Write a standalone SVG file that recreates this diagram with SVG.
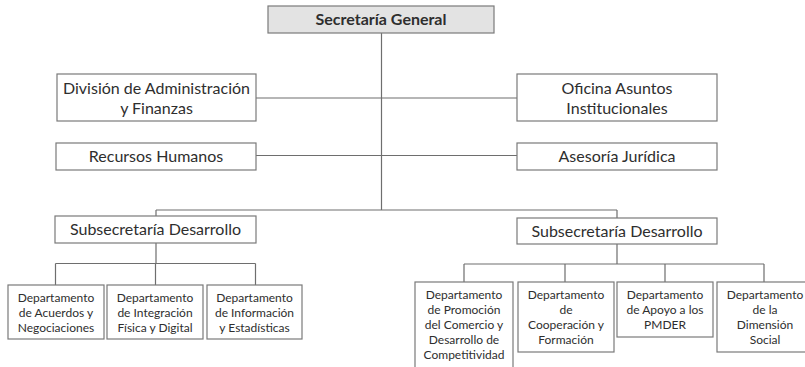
<svg xmlns="http://www.w3.org/2000/svg" width="805" height="367" viewBox="0 0 805 367">
<style>
.box{fill:#fff;stroke:#7a7a7a;stroke-width:1.2}
.top{fill:#e3e3e3;stroke:#7a7a7a;stroke-width:1.2}
.ln{fill:none;stroke:#6e6e6e;stroke-width:1.2}
text{font-family:Lato,"Open Sans",sans-serif;fill:#2e2e2e;text-anchor:middle}
.t1{font-size:16px;font-weight:bold}
.t2{font-size:16px}
.t3{font-size:12px}
</style>
<rect width="805" height="367" fill="#fff"/>
<g id="connectors">
<path class="ln" d="M381.5 33V210M256 98H517M256 155.5H517M156 210H617M156 210V216M617 210V218"/>
<path class="ln" d="M156 243V263.5M55.5 263.5H255.5M55.5 263.5V285M155.5 263.5V285M255.5 263.5V285"/>
<path class="ln" d="M617 244V264M464 264H764M464 264V282M565 264V282M665 264V282M764 264V282"/>
</g>
<g id="secretaria"><rect class="top" x="268" y="6" width="226" height="27"/><text class="t1" x="381" y="25">Secretaría General</text></g>
<g id="division"><rect class="box" x="57" y="74" width="199" height="47"/><text class="t2" x="156.5" y="94">División de Administración</text><text class="t2" x="156.5" y="114">y Finanzas</text></g>
<g id="oficina"><rect class="box" x="517" y="74" width="200" height="47"/><text class="t2" x="617" y="94">Oficina Asuntos</text><text class="t2" x="617" y="114">Institucionales</text></g>
<g id="recursos"><rect class="box" x="56" y="143" width="200" height="27"/><text class="t2" x="156" y="162">Recursos Humanos</text></g>
<g id="asesoria"><rect class="box" x="517" y="143" width="200" height="27"/><text class="t2" x="617" y="162">Asesoría Jurídica</text></g>
<g id="sub-left"><rect class="box" x="55" y="216" width="201" height="27"/><text class="t2" x="155.5" y="235">Subsecretaría Desarrollo</text></g>
<g id="sub-right"><rect class="box" x="517" y="218" width="200" height="26"/><text class="t2" x="617" y="237">Subsecretaría Desarrollo</text></g>
<g id="dep-acuerdos"><rect class="box" x="8" y="285" width="96" height="54"/><text class="t3" x="56" y="301.5">Departamento</text><text class="t3" x="56" y="316.5">de Acuerdos y</text><text class="t3" x="56" y="331.5">Negociaciones</text></g>
<g id="dep-integracion"><rect class="box" x="107" y="285" width="96" height="54"/><text class="t3" x="155" y="301.5">Departamento</text><text class="t3" x="155" y="316.5">de Integración</text><text class="t3" x="155" y="331.5">Física y Digital</text></g>
<g id="dep-informacion"><rect class="box" x="207" y="285" width="95" height="54"/><text class="t3" x="254.5" y="301.5">Departamento</text><text class="t3" x="254.5" y="316.5">de Información</text><text class="t3" x="254.5" y="331.5">y Estadísticas</text></g>
<g id="dep-promocion"><rect class="box" x="415" y="282" width="98" height="92"/><text class="t3" x="464" y="298.5">Departamento</text><text class="t3" x="464" y="313.5">de Promoción</text><text class="t3" x="464" y="328.5">del Comercio y</text><text class="t3" x="464" y="343.5">Desarrollo de</text><text class="t3" x="464" y="358.5">Competitividad</text></g>
<g id="dep-cooperacion"><rect class="box" x="518" y="282" width="96" height="70"/><text class="t3" x="566" y="298.5">Departamento</text><text class="t3" x="566" y="313.5">de</text><text class="t3" x="566" y="328.5">Cooperación y</text><text class="t3" x="566" y="343.5">Formación</text></g>
<g id="dep-apoyo"><rect class="box" x="617" y="282" width="96" height="55"/><text class="t3" x="665" y="298.5">Departamento</text><text class="t3" x="665" y="313.5">de Apoyo a los</text><text class="t3" x="665" y="328.5">PMDER</text></g>
<g id="dep-social"><rect class="box" x="717" y="282" width="96" height="70"/><text class="t3" x="765" y="298.5">Departamento</text><text class="t3" x="765" y="313.5">de la</text><text class="t3" x="765" y="328.5">Dimensión</text><text class="t3" x="765" y="343.5">Social</text></g>
</svg>
